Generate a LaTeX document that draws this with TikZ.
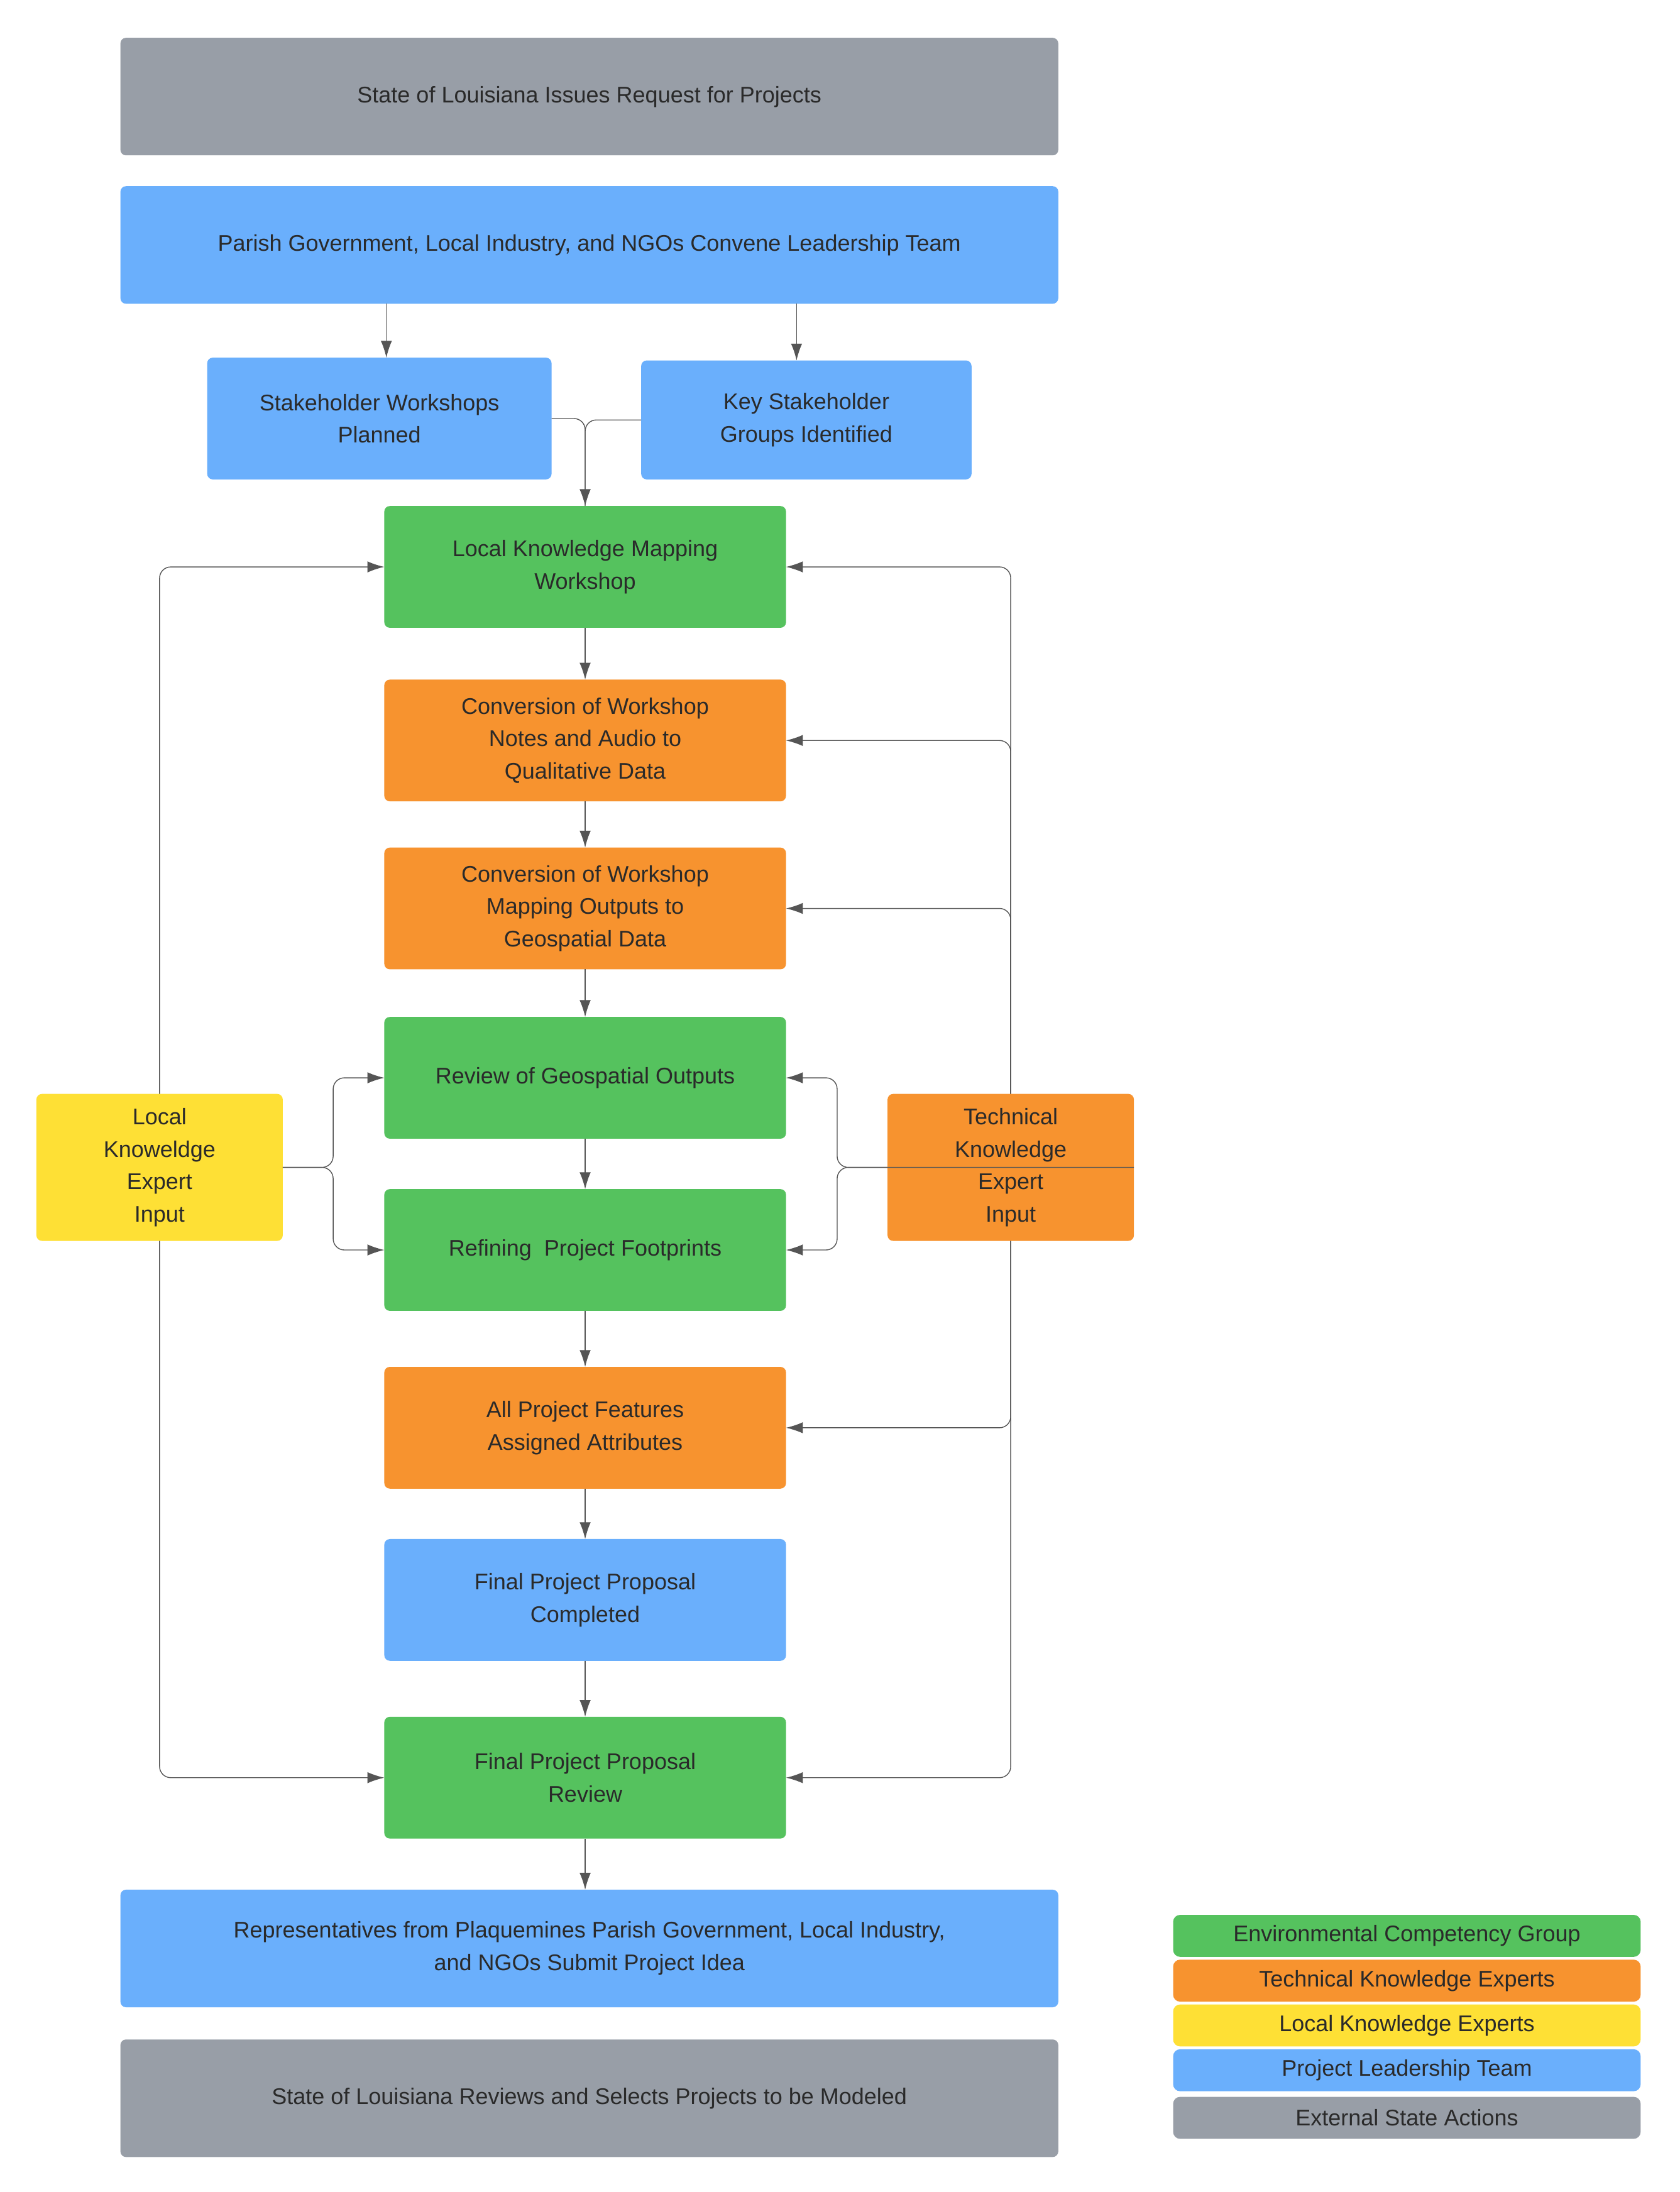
\documentclass[tikz,border=0pt]{standalone}
\usepackage{fontspec}
\setmainfont{Liberation Sans}
\usetikzlibrary{arrows.meta}
\definecolor{cgray}{HTML}{989EA7}
\definecolor{cblue}{HTML}{6AAFFC}
\definecolor{cgreen}{HTML}{55C25E}
\definecolor{corange}{HTML}{F7932F}
\definecolor{cyellow}{HTML}{FEE035}
\definecolor{ctext}{HTML}{2A2A2A}
\definecolor{cline}{HTML}{555555}
\begin{document}
\begin{tikzpicture}[x=0.05cm,y=-0.05cm,
  box/.style={rounded corners=0.2cm,inner sep=0pt,outer sep=0pt,align=center,text=ctext,
    font=\fontsize{23}{33}\selectfont},
  wide/.style={box,minimum width=33.5cm,minimum height=4.2cm},
  mid/.style={box,minimum width=14.35cm,minimum height=4.35cm},
  side/.style={box,minimum width=8.8cm,minimum height=5.25cm},
  leg/.style={box,minimum width=16.7cm,minimum height=1.5cm,rounded corners=0.25cm},
  arr/.style={draw=cline,line width=0.9pt,-{Latex[length=0.6cm,width=0.4cm]},rounded corners=0.4cm},
  ln/.style={draw=cline,line width=0.9pt,rounded corners=0.4cm}]
\useasboundingbox[fill=white] (0,0) rectangle (1200,1566);
\node[wide,fill=cgray] (top) at (421,69) {State of Louisiana Issues Request for Projects};
\node[wide,fill=cblue] (pl) at (421,175) {Parish Government, Local Industry, and NGOs Convene Leadership Team};
\node[box,fill=cblue,minimum width=12.3cm,minimum height=4.35cm] (sw) at (271,299) {Stakeholder Workshops\\Planned};
\node[box,fill=cblue,minimum width=11.8cm,minimum height=4.25cm] (ks) at (576,300) {Key Stakeholder\\Groups Identified};
\node[mid,fill=cgreen] (lk) at (418,405) {Local Knowledge Mapping\\Workshop};
\node[mid,fill=corange] (c1) at (418,529) {Conversion of Workshop\\Notes and Audio to\\Qualitative Data};
\node[mid,fill=corange] (c2) at (418,649) {Conversion of Workshop\\Mapping Outputs to\\Geospatial Data};
\node[mid,fill=cgreen] (rv) at (418,770) {Review of Geospatial Outputs};
\node[mid,fill=cgreen] (rf) at (418,893) {Refining\ \ Project Footprints};
\node[mid,fill=corange] (af) at (418,1020) {All Project Features\\Assigned Attributes};
\node[mid,fill=cblue] (fc) at (418,1143) {Final Project Proposal\\Completed};
\node[mid,fill=cgreen] (fr) at (418,1270) {Final Project Proposal\\Review};
\node[wide,fill=cblue] (rep) at (421,1392) {Representatives from Plaquemines Parish Government, Local Industry,\\and NGOs Submit Project Idea};
\node[wide,fill=cgray] (st) at (421,1499) {State of Louisiana Reviews and Selects Projects to be Modeled};
% lines behind side boxes
\draw[arr] (114,834) |- (lk.west);
\draw[arr] (114,834) |- (fr.west);
\draw[arr] (722,834) |- (lk.east);
\draw[arr] (722,834) |- (c1.east);
\draw[arr] (722,834) |- (c2.east);
\draw[arr] (722,834) |- (af.east);
\draw[arr] (722,834) |- (fr.east);
\node[side,fill=cyellow] (li) at (114,834) {Local\\Knoweldge\\Expert\\Input};
\node[side,fill=corange] (ti) at (722,834) {Technical\\Knowledge\\Expert\\Input};
\draw[arr] (li.east) -- (238,834) |- (rv.west);
\draw[arr] (li.east) -- (238,834) |- (rf.west);
\draw[arr] (ti.east |- ti.west) -- (598,834) |- (rv.east);
\draw[arr] (ti.west) -- (598,834) |- (rf.east);
% top
\draw[arr,rounded corners=0pt] (pl.south -| 276,0) -- (sw.north -| 276,0);
\draw[arr,rounded corners=0pt] (pl.south -| 569,0) -- (ks.north -| 569,0);
\draw[arr] (sw.east) -| (lk.north);
\draw[ln] (ks.west) -| (lk.north);
% chain
\draw[arr] (lk) -- (c1);
\draw[arr] (c1) -- (c2);
\draw[arr] (c2) -- (rv);
\draw[arr] (rv) -- (rf);
\draw[arr] (rf) -- (af);
\draw[arr] (af) -- (fc);
\draw[arr] (fc) -- (fr);
\draw[arr] (fr.south) -- (rep.north -| fr.south);
% legend
\node[leg,fill=cgreen] (l1) at (1005,1383) {Environmental Competency Group};
\node[leg,fill=corange] (l2) at (1005,1415) {Technical Knowledge Experts};
\node[leg,fill=cyellow] (l3) at (1005,1447) {Local Knowledge Experts};
\node[leg,fill=cblue] (l4) at (1005,1479) {Project Leadership Team};
\node[leg,fill=cgray] (l5) at (1005,1513) {External State Actions};
\end{tikzpicture}
\end{document}
